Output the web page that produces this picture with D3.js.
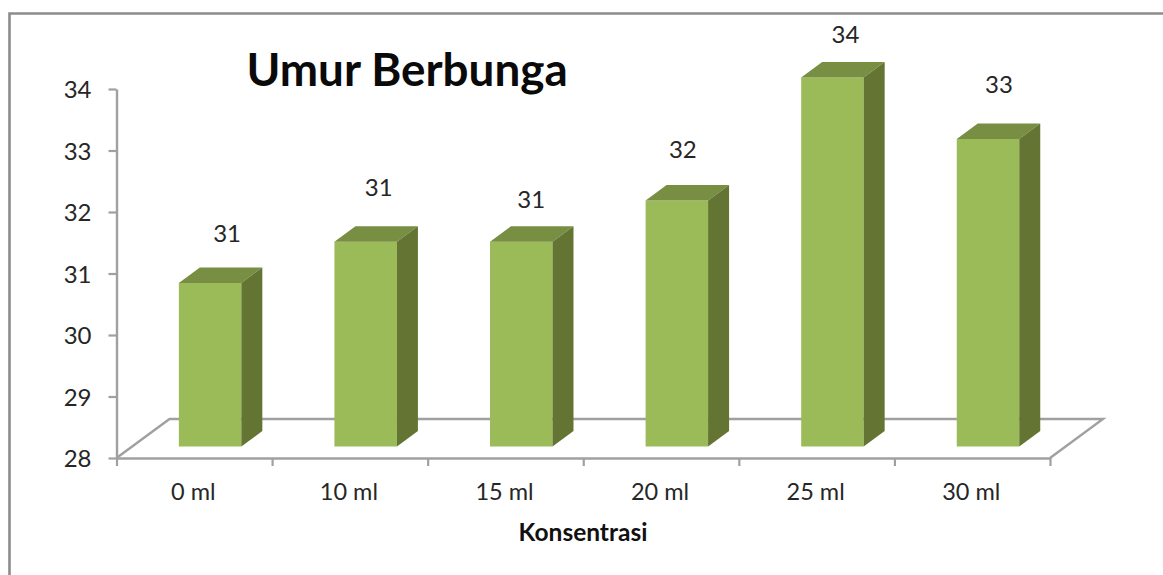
<!DOCTYPE html>
<html>
<head>
<meta charset="utf-8">
<script src="https://cdn.jsdelivr.net/npm/d3@7/dist/d3.min.js"></script>
<style>
html,body{margin:0;padding:0;background:#fff;overflow:hidden}
svg{display:block}
.tick text{font-family:Lato,"Open Sans",sans-serif;fill:#262626}
</style>
</head>
<body>
<svg id="chart" width="1163" height="575"></svg>
<script>
const categories = ["0 ml","10 ml","15 ml","20 ml","25 ml","30 ml"];
const values = [30.66,31.33,31.33,32,34,33];
const valueLabels = ["31","31","31","32","34","33"];
const yTicks = [28,29,30,31,32,33,34];
const chartTitle = "Umur Berbunga";
const xTitle = "Konsentrasi";

// hand-placed label lift above each bar's front top, in pixels (as in the source)
const labelLift = [50,54,42,51,43,55];
const labelShift = [17,13,10,6,13,11];

const svg = d3.select("#chart");
const W = 1163, H = 575;
const plotLeft = 116.5, plotRight = 1050, plotTop = 89, plotBottom = 458;
const floorDx = 53, floorDy = 39;       // depth of the floor
const barDx = 21, barDy = 15.5;         // depth of a bar
const barOffX = 15.8, barOffY = 11.5;   // bar front inset from the front of the floor
const grey = "#a0a0a0";

const y = d3.scaleLinear().domain([28,34]).range([plotBottom,plotTop]);
const x = d3.scaleBand().domain(categories).range([plotLeft,plotRight]).paddingInner(0).paddingOuter(0);
const xEdge = d3.scaleLinear().domain([0,categories.length]).range([plotLeft,plotRight]);
const barW = x.bandwidth()/2.49;

// frame
svg.append("path")
  .attr("d",`M9.5,${H+5} V13.5 H${W+5}`)
  .attr("fill","none").attr("stroke","#8c8c8c").attr("stroke-width",2.6);

// floor
svg.append("path")
  .attr("d",`M${plotLeft},${plotBottom} L${plotLeft+floorDx},${plotBottom-floorDy} H${plotRight+floorDx} L${plotRight},${plotBottom}`)
  .attr("fill","none").attr("stroke",grey).attr("stroke-width",2.4);

// y axis
const yAxis = d3.axisLeft(y).tickValues(yTicks).tickSize(8).tickPadding(17).tickSizeOuter(0).tickFormat(d3.format("d"));
const gy = svg.append("g").attr("transform",`translate(${plotLeft},0)`).call(yAxis);
gy.select(".domain").attr("stroke",grey).attr("stroke-width",2.4);
gy.selectAll(".tick line").attr("stroke",grey).attr("stroke-width",2.2);
gy.selectAll(".tick text").attr("font-size",24).style("font-family",'Lato,"Open Sans",sans-serif').attr("dy","0.36em");

// x axis: tick marks on the category edges
const xTickAxis = d3.axisBottom(xEdge).tickValues(d3.range(categories.length+1)).tickSize(8).tickSizeOuter(0).tickFormat("");
const gxt = svg.append("g").attr("transform",`translate(0,${plotBottom})`).call(xTickAxis);
gxt.select(".domain").attr("stroke",grey).attr("stroke-width",2.4);
gxt.selectAll(".tick line").attr("stroke",grey).attr("stroke-width",2.2);

// x axis: category labels
const xLabelAxis = d3.axisBottom(x).tickSize(0).tickPadding(25);
const gxl = svg.append("g").attr("transform",`translate(0,${plotBottom})`).call(xLabelAxis);
gxl.select(".domain").remove();
gxl.selectAll(".tick text").attr("font-size",23.5).style("font-family",'Lato,"Open Sans",sans-serif').attr("dx",-1);

// bars
const bars = svg.append("g").selectAll("g").data(categories.map((c,i)=>({c,v:values[i],i}))).join("g");
const fx = d => x(d.c)+x.bandwidth()/2-barW/2+barOffX;
const ty = d => y(d.v)-barOffY;
const by = () => y(28)-barOffY;
bars.append("rect")
  .attr("x",fx).attr("y",ty).attr("width",barW).attr("height",d=>by()-ty(d))
  .attr("fill","#9bbb59");
bars.append("path") // top
  .attr("d",d=>`M${fx(d)},${ty(d)} l${barDx},${-barDy} h${barW} l${-barDx},${barDy} Z`)
  .attr("fill","#778e43");
bars.append("path") // side
  .attr("d",d=>`M${fx(d)+barW},${ty(d)} l${barDx},${-barDy} V${by()-barDy} l${-barDx},${barDy} Z`)
  .attr("fill","#647533");
bars.append("text")
  .attr("x",d=>fx(d)+barW/2+labelShift[d.i])
  .attr("y",d=>ty(d)-labelLift[d.i])
  .attr("dy","0.36em").attr("text-anchor","middle")
  .attr("font-family",'Lato,"Open Sans",sans-serif').attr("font-size",24).attr("fill","#262626")
  .text(d=>valueLabels[d.i]);

// titles
svg.append("text").attr("x",246.5).attr("y",86)
  .attr("font-family",'Lato,"Open Sans",sans-serif').attr("font-weight",700).attr("font-size",45.8).attr("fill","#0a0a0a")
  .text(chartTitle);
svg.append("text").attr("x",583).attr("y",541).attr("text-anchor","middle")
  .attr("font-family",'Lato,"Open Sans",sans-serif').attr("font-weight",700).attr("font-size",24.5).attr("fill","#111")
  .text(xTitle);
</script>
</body>
</html>
